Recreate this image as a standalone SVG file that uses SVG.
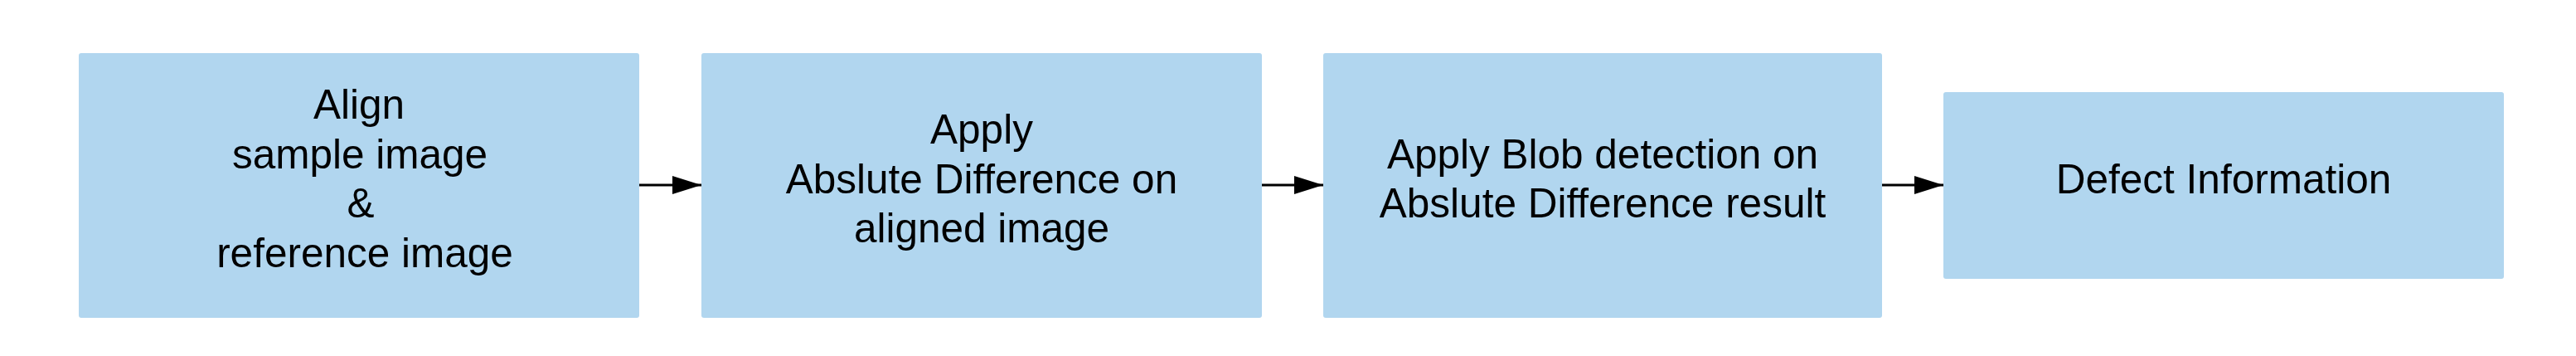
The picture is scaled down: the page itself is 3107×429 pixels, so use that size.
<svg xmlns="http://www.w3.org/2000/svg" width="3107" height="429" viewBox="0 0 3107 429">
<defs>
<style>
.box{fill:#b1d6ef;}
.lbl{font-family:"Liberation Sans",Arial,sans-serif;font-size:49.5px;fill:#000;text-anchor:middle;}
.edge{stroke:#000;stroke-width:3;fill:none;}
</style>
<marker id="arr" viewBox="0 0 35 22" refX="35" refY="11" markerWidth="35" markerHeight="22" markerUnits="userSpaceOnUse" orient="auto">
<path d="M0,0 L35,11 L0,22 Z" fill="#000"/>
</marker>
</defs>
<rect width="3107" height="429" fill="#fff"/>
<g id="connectors">
<line class="edge" x1="771" y1="223" x2="846" y2="223" marker-end="url(#arr)"/>
<line class="edge" x1="1522" y1="223" x2="1596" y2="223" marker-end="url(#arr)"/>
<line class="edge" x1="2270" y1="223" x2="2344" y2="223" marker-end="url(#arr)"/>
</g>
<g id="node1">
<rect class="box" x="95" y="64" width="676" height="319" rx="3"/>
<text class="lbl" x="433" y="143">Align</text>
<text class="lbl" x="434" y="203">sample image</text>
<text class="lbl" x="435" y="262">&amp;</text>
<text class="lbl" x="440" y="322">reference image</text>
</g>
<g id="node2">
<rect class="box" x="846" y="64" width="676" height="319" rx="3"/>
<text class="lbl" x="1184" y="173">Apply</text>
<text class="lbl" x="1184" y="232.5">Abslute Difference on</text>
<text class="lbl" x="1184" y="292">aligned image</text>
</g>
<g id="node3">
<rect class="box" x="1596" y="64" width="674" height="319" rx="3"/>
<text class="lbl" x="1933" y="203">Apply Blob detection on</text>
<text class="lbl" x="1933" y="262">Abslute Difference result</text>
</g>
<g id="node4">
<rect class="box" x="2344" y="111" width="676" height="225" rx="3"/>
<text class="lbl" x="2682" y="232.5">Defect Information</text>
</g>
</svg>
